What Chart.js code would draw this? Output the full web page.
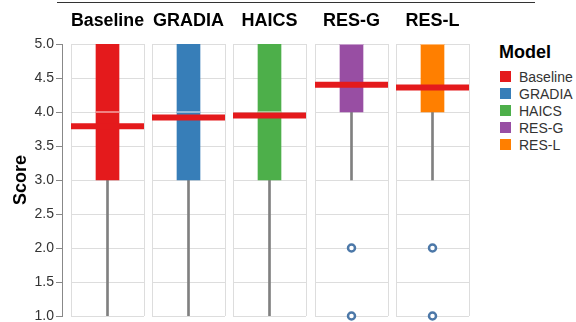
<!DOCTYPE html>
<html>
<head>
<meta charset="utf-8">
<script src="https://cdn.jsdelivr.net/npm/chart.js@4"></script>
<style>
  body { margin: 0; background: #fff; font-family: "Liberation Sans", Arial, sans-serif; }
  #wrap { position: relative; width: 576px; height: 322px; overflow: hidden; }
  #wrap canvas { position: absolute; top: 0; }
  #topline { position: absolute; left: 57px; top: 2px; width: 478px; height: 0; border-top: 1px solid #333; }
  #legend { position: absolute; left: 499px; top: 41px; }
  #legend .ttl { font-weight: bold; font-size: 18px; line-height: 22px; color: #000; margin-bottom: 5px; }
  #legend .item { display: flex; align-items: center; height: 17px; font-size: 14px; color: #333; }
  #legend .sw { width: 11px; height: 11px; margin: 0 8px 0 1px; }
</style>
</head>
<body>
<div id="wrap">
  <div id="topline"></div>
  <canvas id="axis" width="64" height="322" style="left:0"></canvas>
  <div id="legend"></div>
</div>
<script>
const models = ['Baseline', 'GRADIA', 'HAICS', 'RES-G', 'RES-L'];
const colors = ['#e41a1c', '#377eb8', '#4daf4a', '#984ea3', '#ff7f00'];

// box statistics per model (Score, 1-5)
const q1 = [3, 3, 3, 4, 4];
const q3 = [5, 5, 5, 5, 5];
const medians = [4, 4, 4, 5, 5];
const whiskerLow = [1, 1, 1, 3, 3];
const whiskerHigh = [5, 5, 5, 5, 5];
const means = [3.79, 3.92, 3.95, 4.40, 4.36];
const outliers = [[], [], [], [2, 1], [2, 1]];

const scoreMin = 1;
const scoreMax = 5;
const scoreStep = 0.5;

const panelLeft = 71;
const panelPitch = 81.2;
const panelWidth = 73;
const plotTop = 44;
const plotBottom = 316;
const fontFamily = '"Liberation Sans", Arial, sans-serif';

const wrap = document.getElementById('wrap');

// shared y axis on the left
new Chart(document.getElementById('axis'), {
  type: 'bar',
  data: { labels: [], datasets: [] },
  options: {
    responsive: false,
    animation: false,
    events: [],
    layout: { autoPadding: false, padding: { top: plotTop, bottom: 322 - plotBottom, left: 0, right: 0 } },
    plugins: { legend: { display: false }, tooltip: { enabled: false }, colors: { enabled: false } },
    scales: {
      x: { display: false },
      y: {
        min: scoreMin,
        max: scoreMax,
        afterFit: scale => {
          scale.width = 62;
          scale.paddingTop = 0;
          scale.paddingBottom = 0;
        },
        ticks: {
          stepSize: scoreStep,
          padding: 2,
          color: '#333',
          font: { family: fontFamily, size: 14 },
          callback: v => v.toFixed(1)
        },
        grid: { drawOnChartArea: false, tickLength: 6, color: '#888' },
        border: { color: '#888' },
        title: {
          display: true,
          text: 'Score',
          color: '#000',
          font: { family: fontFamily, size: 18, weight: 'bold' },
          padding: { top: 10, bottom: 0 }
        }
      }
    }
  }
});

// one panel per model
models.forEach((m, i) => {
  const cv = document.createElement('canvas');
  cv.width = panelWidth + 2;
  cv.height = 322;
  cv.style.left = (panelLeft + i * panelPitch - 1) + 'px';
  wrap.appendChild(cv);

  const datasets = [
    {
      type: 'bar',
      data: [[whiskerLow[i], q1[i]]],
      backgroundColor: '#808080',
      barThickness: 2,
      grouped: false,
      order: 6
    },
    {
      type: 'bar',
      data: [[q1[i], q3[i]]],
      backgroundColor: colors[i],
      barThickness: 23,
      grouped: false,
      order: 5
    },
    {
      type: 'line',
      data: [medians[i]],
      showLine: false,
      borderColor: 'rgba(255,255,255,0.45)',
      pointStyle: 'line',
      pointRadius: 11.5,
      pointBorderWidth: 2,
      pointBorderColor: 'rgba(255,255,255,0.45)',
      order: 4
    },
    {
      type: 'line',
      data: [means[i]],
      showLine: false,
      borderColor: '#e41a1c',
      pointStyle: 'line',
      pointRadius: 36.5,
      pointBorderWidth: 6,
      pointBorderColor: '#e41a1c',
      order: 3
    }
  ];
  if (whiskerHigh[i] > q3[i]) {
    datasets.push({
      type: 'bar',
      data: [[q3[i], whiskerHigh[i]]],
      backgroundColor: '#808080',
      barThickness: 2,
      grouped: false,
      order: 6
    });
  }
  if (outliers[i].length) {
    datasets.push({
      type: 'line',
      data: outliers[i].map(v => ({ x: m, y: v })),
      showLine: false,
      borderColor: '#4c78a8',
      pointStyle: 'circle',
      pointRadius: 3.5,
      pointBorderWidth: 2.5,
      pointBorderColor: '#4c78a8',
      pointBackgroundColor: '#fff',
      clip: false,
      order: 1
    });
  }

  new Chart(cv, {
    type: 'bar',
    data: { labels: [m], datasets },
    options: {
      responsive: false,
      animation: false,
      events: [],
      layout: { autoPadding: false, padding: { top: 0, bottom: 322 - plotBottom, left: 1, right: 1 } },
      plugins: {
        legend: { display: false },
        tooltip: { enabled: false },
        colors: { enabled: false },
        title: {
          display: true,
          text: m,
          color: '#000',
          font: { family: fontFamily, size: 18, weight: 'bold', lineHeight: 1.2 },
          padding: { top: 10, bottom: plotTop - 10 - 21.6 }
        }
      },
      scales: {
        x: {
          offset: true,
          afterFit: scale => { scale.height = 0; },
          ticks: { display: false },
          grid: { offset: true, drawTicks: false, color: '#ddd' },
          border: { display: false }
        },
        y: {
          min: scoreMin,
          max: scoreMax,
          afterFit: scale => {
            scale.width = 0;
            scale.paddingTop = 0;
            scale.paddingBottom = 0;
          },
          ticks: { display: false, stepSize: scoreStep },
          grid: { drawTicks: false, color: '#ddd' },
          border: { display: false }
        }
      }
    }
  });
});

// legend
const legend = document.getElementById('legend');
legend.innerHTML = '<div class="ttl">Model</div>' + models.map((m, i) =>
  '<div class="item"><span class="sw" style="background:' + colors[i] + '"></span>' + m + '</div>'
).join('');
</script>
</body>
</html>
